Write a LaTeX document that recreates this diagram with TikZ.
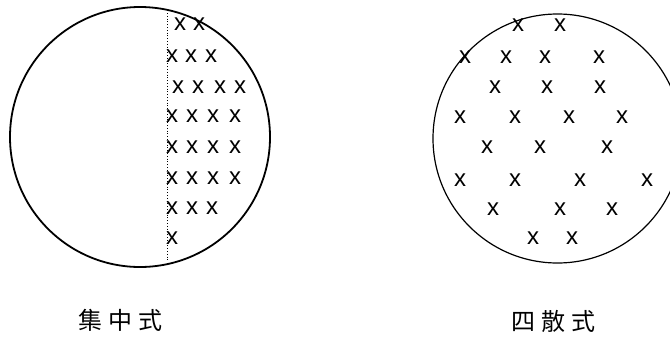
\documentclass[tikz,border=0pt]{standalone}
\usepackage{fontspec}
\setmainfont{Liberation Sans}
\newfontfamily\cjk{Noto Sans CJK TC}
\begin{document}
\begin{tikzpicture}[x=1pt,y=-1pt,
  mark x/.style={inner sep=0pt, font=\fontsize{24}{24}\selectfont},
  label cjk/.style={inner sep=0pt, font=\cjk\fontsize{24}{24}\selectfont}]
\useasboundingbox (0,0) rectangle (670,338);
% left circle
\draw[line width=1.8pt] (140,137) circle[radius=130];
\coordinate (dtop) at (167,13);
\coordinate (dbot) at (167,261);
\draw[dotted, line width=0.8pt] (dtop) -- (dbot);
% left x marks
\foreach \px/\py [count=\i] in {180/24,199/24,
  172/56,191/56,211/56,
  178/87,198/87,220/87,240/87,
  172/116,192/116,213/116,235/116,
  172/147,192/147,213/147,235/147,
  172/178,192/178,213/178,235/178,
  172/208,192/208,212/208,
  172/238}
  \node[mark x] (L\i) at (\px,\py) {x};
% right circle
\draw[line width=1.2pt] (557.5,138.5) circle[radius=124.5];
\foreach \px/\py [count=\i] in {518/25,560/25,
  465/57,506/57,545/57,599/57,
  495/87,547/87,600/87,
  460/117,515/117,569/117,622/117,
  487/147,540/147,607/147,
  460/180,515/180,580/180,647/180,
  493/209,560/209,612/209,
  533/238,572/238}
  \node[mark x] (R\i) at (\px,\py) {x};
% labels
\node[label cjk] (lab1) at (120,320) {集\hspace{6pt}中\hspace{6pt}式};
\node[label cjk] (lab2) at (553,321) {四\hspace{6pt}散\hspace{6pt}式};
\end{tikzpicture}
\end{document}
